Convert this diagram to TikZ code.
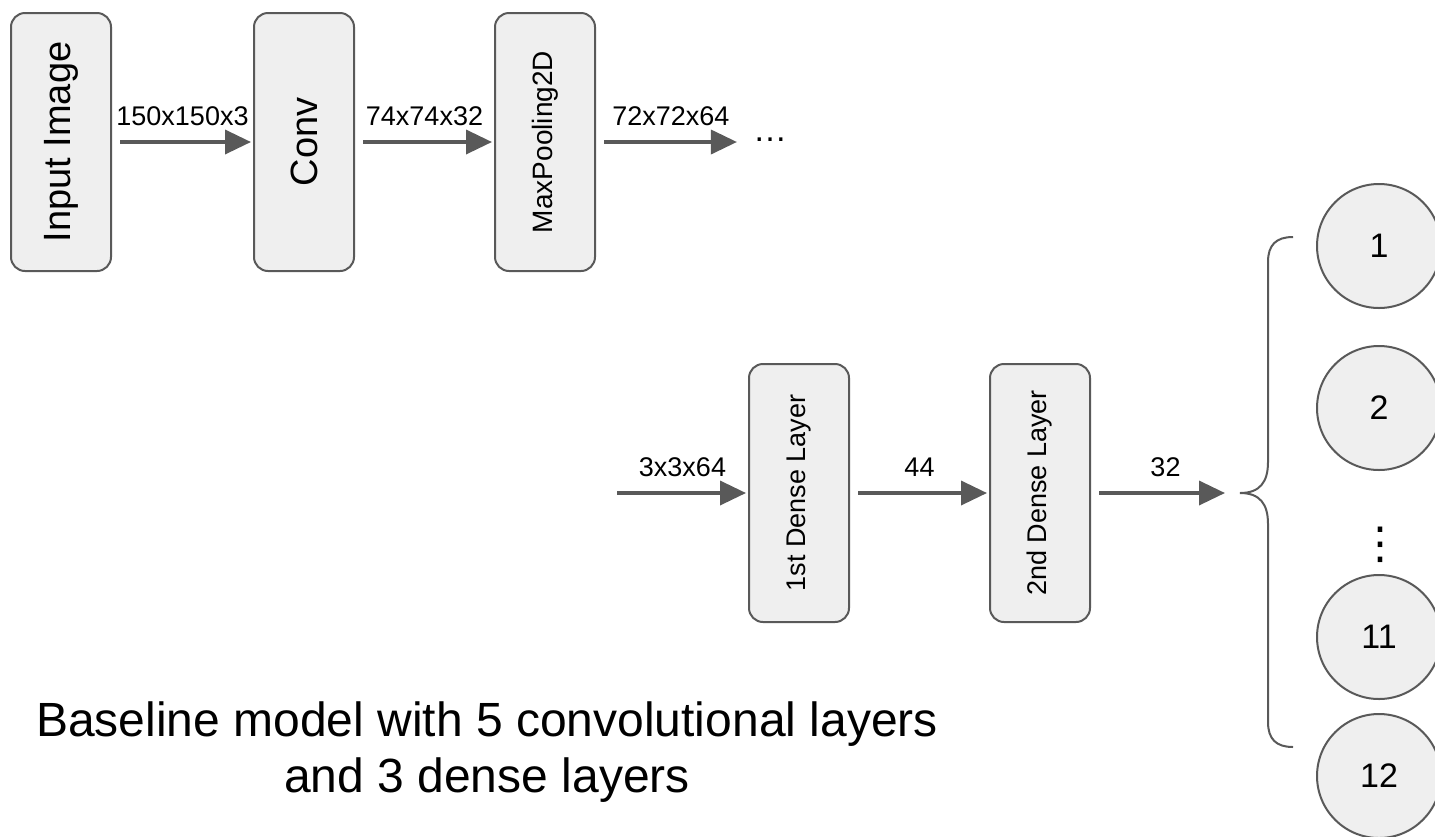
\documentclass[tikz,border=0pt]{standalone}
\usepackage{fontspec}
\setmainfont{Liberation Sans}
\newfontfamily\symfont{DejaVu Sans}
\usetikzlibrary{arrows.meta}
\definecolor{linegray}{HTML}{595959}
\definecolor{boxgray}{HTML}{EFEFEF}
\begin{document}
\begin{tikzpicture}[x=0.5pt, y=-0.5pt,
	layer/.style={draw=linegray, fill=boxgray, line width=1pt, rounded corners=7pt, minimum width=50pt, minimum height=129pt, inner sep=0pt},
	flow/.style={draw=linegray, line width=1.8pt, -{Triangle[length=13pt,width=12pt]}, shorten <=4pt, shorten >=1pt},
	lbl/.style={font=\fontsize{13.5}{15}\selectfont, above=4pt},
	unit/.style={circle, draw=linegray, fill=boxgray, line width=1pt, minimum size=62pt, inner sep=0pt, font=\fontsize{17}{19}\selectfont}]
	\clip (0,0) rectangle (1435,836);
	\node[layer] (img) at (61,142) {\rotatebox{90}{\fontsize{19}{21}\selectfont Input Image}};
	\node[layer] (conv) at (304,142) {\rotatebox{90}{\fontsize{19}{21}\selectfont Conv}};
	\node[layer] (pool) at (545,142) {\rotatebox{90}{\fontsize{14}{16}\selectfont MaxPooling2D}};
	\node (more) at (770,140) {\fontsize{17}{19}\selectfont\dots};
	\draw[flow] (img.east) -- node[lbl] {150x150x3} (conv.west);
	\draw[flow] (conv.east) -- node[lbl] {74x74x32} (pool.west);
	\draw[flow, shorten >=4.5pt] (pool.east) -- node[lbl] {72x72x64} (pool.east -| more.west);
	\node[layer] (dense1) at (799,493) {\rotatebox{90}{\fontsize{13.5}{15}\selectfont 1st Dense Layer}};
	\node[layer] (dense2) at (1040,493) {\rotatebox{90}{\fontsize{13.5}{15}\selectfont 2nd Dense Layer}};
	\coordinate (feat) at (617,493);
	\coordinate (tip) at (1240,493);
	\draw[flow, shorten <=0pt] (feat) -- node[lbl] {3x3x64} (dense1.west);
	\draw[flow] (dense1.east) -- node[lbl] {44} (dense2.west);
	\draw[flow, shorten >=7.5pt] (dense2.east) -- node[lbl] {32} (tip);
	\draw[linegray, line width=1pt] (1293,237) .. controls (1276,237) and (1268,245) .. (1268,262) -- (1268,462)
		.. controls (1268,482) and (1260,493) .. (tip) .. controls (1260,493) and (1268,504) .. (1268,524)
		-- (1268,722) .. controls (1268,739) and (1276,747) .. (1293,747);
	\node[unit] (out1) at (1379,246) {1};
	\node[unit] (out2) at (1379,408) {2};
	\node[font=\fontsize{22}{24}\symfont] (vd) at (1380,545) {⋮};
	\node[unit] (out11) at (1379,637) {11};
	\node[unit] (out12) at (1379,776) {12};
	\node[align=center, font=\fontsize{24}{28}\selectfont] (cap) at (487,752) {Baseline model with 5 convolutional layers\\and 3 dense layers};
\end{tikzpicture}
\end{document}
